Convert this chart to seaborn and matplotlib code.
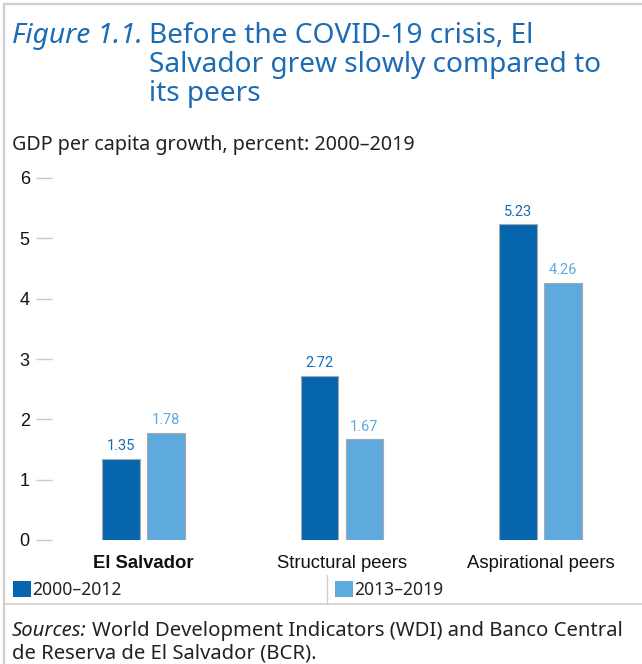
import matplotlib
matplotlib.use("Agg")
import matplotlib.pyplot as plt
from matplotlib.lines import Line2D
from matplotlib.patches import Patch
import seaborn as sns
import pandas as pd

# ---- data -------------------------------------------------------------
categories = ["El Salvador", "Structural peers", "Aspirational peers"]
periods = ["2000\u20132012", "2013\u20132019"]
growth_2000_2012 = [1.35, 2.72, 5.23]
growth_2013_2019 = [1.78, 1.67, 4.26]
y_ticks = [0, 1, 2, 3, 4, 5, 6]

title_lead = "Figure 1.1."
title_lines = ["Before the COVID-19 crisis, El",
               "Salvador grew slowly compared to",
               "its peers"]
subtitle = "GDP per capita growth, percent: 2000\u20132019"
source_lead = "Sources:"
source_line1 = "World Development Indicators (WDI) and Banco Central"
source_line2 = "de Reserva de El Salvador (BCR)."

df = pd.DataFrame({
    "category": categories * 2,
    "period": [periods[0]] * 3 + [periods[1]] * 3,
    "growth": growth_2000_2012 + growth_2013_2019,
})

# ---- style ------------------------------------------------------------
dark_blue = "#0566ae"
light_blue = "#5ea9dd"
title_blue = "#1b6cb4"
frame_grey = "#cfcfcf"
palette = {periods[0]: dark_blue, periods[1]: light_blue}

sns.set_theme(style="white")
text_font = ["Noto Sans", "DejaVu Sans"]
axis_font = ["Liberation Sans", "DejaVu Sans"]
plt.rcParams["font.family"] = axis_font

W, H = 642, 664
fig = plt.figure(figsize=(W / 100, H / 100), dpi=100)
fig.patch.set_facecolor("white")

def fx(px):
    return px / W

def fy(py):
    return (H - py) / H

ax_left, ax_right, ax_top, ax_bottom = 52, 642, 178, 540
ax = fig.add_axes([fx(ax_left), fy(ax_bottom), (ax_right - ax_left) / W,
                   (ax_bottom - ax_top) / H])

sns.barplot(data=df, x="category", y="growth", hue="period", order=categories,
            hue_order=periods, palette=palette, width=0.4534, gap=0.156,
            edgecolor="#a8a8a8", linewidth=0.8, saturation=1, legend=False,
            ax=ax)

# value labels above bars
label_font = ["Liberation Sans Narrow", "Roboto", "DejaVu Sans"]
for container, col in zip(ax.containers, [title_blue, light_blue]):
    ax.bar_label(container, fmt="%.2f", padding=4, color=col, fontsize=10.5,
                 family=label_font)

# axes scale and ticks
units = 198.5
ax.set_xlim((ax_left - 143.5) / units, (ax_right - 143.5) / units)
ax.set_ylim(0, 6)
ax.set_yticks(y_ticks)
ax.set_yticklabels([str(t) for t in y_ticks], fontsize=13, color="#111111")
ax.tick_params(axis="y", which="major", left=True, length=11.5, width=1,
               color="#c8c8c8", pad=4.5)
ax.tick_params(axis="x", length=0, pad=10.5, labelsize=13.3, colors="#111111")
for lbl in ax.get_xticklabels():
    if lbl.get_text() == "El Salvador":
        lbl.set_fontweight("bold")
ax.set_xlabel("")
ax.set_ylabel("")
for s in ax.spines.values():
    s.set_visible(False)
ax.set_facecolor("none")

# ---- title block --------------------------------------------------------
fig.canvas.draw()
renderer = fig.canvas.get_renderer()

fig.text(fx(12), fy(43), title_lead, fontsize=20.2, style="italic",
         color=title_blue, family=text_font, va="baseline", ha="left")
for i, line in enumerate(title_lines):
    fig.text(fx(149), fy(43 + 29 * i), line, fontsize=20.2, color=title_blue,
             family=text_font, va="baseline", ha="left")
fig.text(fx(12), fy(150), subtitle, fontsize=14.2, color="#222222",
         family=text_font, va="baseline", ha="left")

# ---- legend ------------------------------------------------------------
for per, xpx in zip(periods, [13, 335]):
    leg = fig.legend(handles=[Patch(facecolor=palette[per], edgecolor="none")],
                     labels=[per], loc="center left",
                     bbox_to_anchor=(fx(xpx), fy(590)), frameon=False,
                     fontsize=12.6, handlelength=1.05, handleheight=0.95,
                     handletextpad=0.05, borderpad=0, borderaxespad=0)
    for t in leg.get_texts():
        t.set_family(text_font)
        t.set_color("#222222")

# ---- sources -----------------------------------------------------------
src_size = 14.6
src = fig.text(fx(12), fy(636), source_lead, fontsize=src_size, style="italic",
               color="#222222", family=text_font, va="baseline", ha="left")
bb = src.get_window_extent(renderer=renderer)
fig.text(fx(12) + (bb.width + 5) / W, fy(636), source_line1, fontsize=src_size,
         color="#222222", family=text_font, va="baseline", ha="left")
fig.text(fx(12), fy(659), source_line2, fontsize=src_size, color="#222222",
         family=text_font, va="baseline", ha="left")

# ---- frame lines ---------------------------------------------------------
fig.add_artist(Line2D([fx(4), fx(4)], [fy(4), 0], color=frame_grey, lw=1.6,
                      transform=fig.transFigure))
fig.add_artist(Line2D([fx(4), 1], [fy(4), fy(4)], color=frame_grey, lw=1.6,
                      transform=fig.transFigure))
fig.add_artist(Line2D([fx(4), 1], [fy(604), fy(604)], color=frame_grey,
                      lw=1.2, transform=fig.transFigure))
fig.add_artist(Line2D([fx(327), fx(327)], [fy(575), fy(604)],
                      color=frame_grey, lw=1.0, transform=fig.transFigure))

fig.savefig("out.png", dpi=100, facecolor="white")
